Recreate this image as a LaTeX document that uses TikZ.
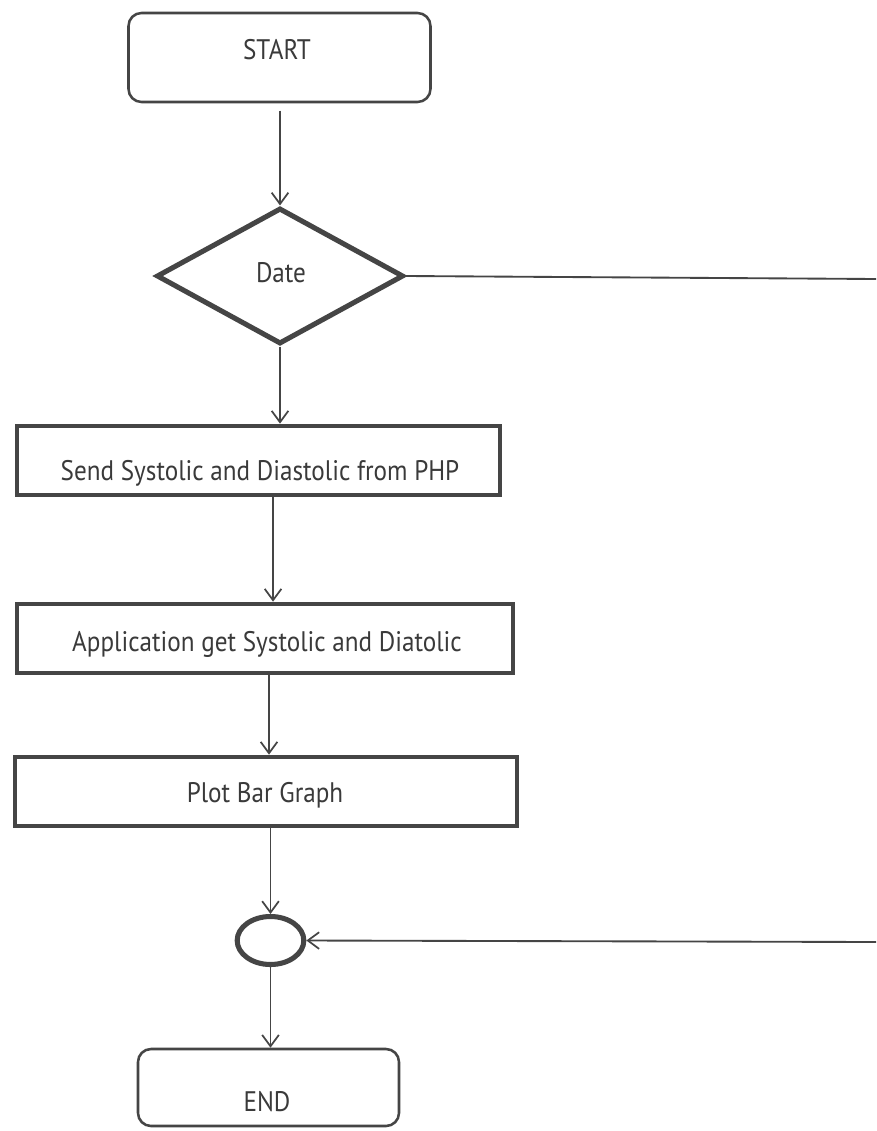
\documentclass[tikz,border=0pt]{standalone}
\usepackage{fontspec}
\setmainfont{PT Sans}[FakeStretch=0.89]
\usetikzlibrary{arrows.meta,shapes.geometric}
\definecolor{ink}{HTML}{454545}
\definecolor{txtc}{HTML}{3A3A3A}
\begin{document}
\begin{tikzpicture}[x=0.75pt,y=-0.75pt,
  lbl/.style={anchor=base,text=txtc,font=\fontsize{21.2}{24}\selectfont,inner sep=0pt},
  term/.style={draw=ink,line width=1.9pt,rounded corners=9.75pt,inner sep=0pt},
  procbox/.style={draw=ink,line width=3.5pt,inner sep=0pt,minimum height=51.75pt},
  decision/.style={diamond,draw=ink,line width=3.8pt,inner sep=0pt,
    minimum width=185.25pt,minimum height=102pt},
  joinpt/.style={ellipse,draw=ink,line width=3.8pt,inner sep=0pt,
    minimum width=50pt,minimum height=36pt},
  arr/.style={draw=ink,line width=1.4pt,
    -{Straight Barb[length=8.5pt,width=12.5pt,line width=1.3pt]}},
  conn/.style={draw=ink,line width=1.4pt}]
  \fill[white] (0,0) rectangle (876,1131);
  \useasboundingbox (0,0) rectangle (876,1131);

  % shapes
  \node[term,minimum width=226.5pt,minimum height=66.75pt] (start) at (279.5,57.5) {};
  \node[decision] (date) at (280,276) {};
  \node[procbox,minimum width=362.25pt] (send) at (258.5,460.5) {};
  \node[procbox,minimum width=372pt] (app) at (265,638.5) {};
  \node[procbox,minimum width=376.5pt] (plot) at (266,791.5) {};
  \node[joinpt] (join) at (270.5,940.5) {};
  \node[term,minimum width=195.75pt,minimum height=57.75pt] (end) at (268.5,1087.5) {};

  % texts
  \node[lbl] (startlbl) at (277,60) {START};
  \node[lbl] (datelbl) at (281,282) {Date};
  \node[lbl] (sendlbl) at (260,480) {Send Systolic and Diastolic from PHP};
  \node[lbl] (applbl) at (267,651) {Application get Systolic and Diatolic};
  \node[lbl] (plotlbl) at (265,802) {Plot Bar Graph};
  \node[lbl] (endlbl) at (267,1111) {END};

  % free ends of the side branch
  \coordinate (r1) at (876,279);
  \coordinate (r2) at (876,942);

  % connectors
  \draw[arr,shorten <=5.5pt] (start.south -| date.north) -- (date.north);
  \draw[arr] (date.south) -- (date.south |- send.north);
  \draw[arr] ([xshift=10.9pt]send.south) -- ([xshift=10.9pt]send.south |- app.north);
  \draw[arr] ([xshift=3pt]app.south) -- ([xshift=3pt]app.south |- plot.north);
  \draw[arr] (plot.south -| join.north) -- (join.north);
  \draw[arr] (join.south) -- (join.south |- end.north);
  \draw[conn] (date.east) -- (r1);
  \draw[arr] (r2) -- (join.east);
\end{tikzpicture}
\end{document}
